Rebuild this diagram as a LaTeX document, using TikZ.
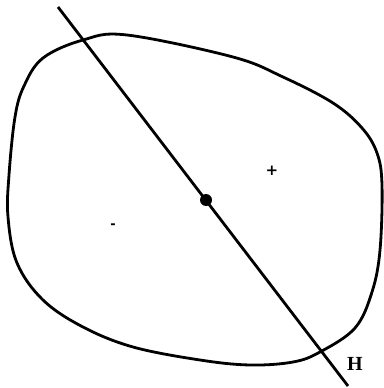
\documentclass[tikz,border=0pt]{standalone}
\usepackage{fontspec}
\newfontfamily\signfont{DejaVu Sans}
\newfontfamily\hfont{Liberation Serif}
\begin{document}
\begin{tikzpicture}[x=1pt,y=-1pt,
  stroke/.style={line width=2.8pt, black},
  lbl/.style={inner sep=0pt}]
\useasboundingbox (0,0) rectangle (383,388);
\draw[stroke] plot[smooth cycle, tension=0.6] coordinates {
  (43,58) (83,40) (127,35) (233,57) (283,77) (333,103) (362,128) (377,153)
  (382,185) (380,250) (372,292) (355,328) (320,352) (293,362) (250,365)
  (200,360) (133,347) (83,327) (43,300) (17,263) (8,217) (9,175)
  (15,117) (24,86)};
\coordinate (top) at (58,7);
\coordinate (bot) at (348,386);
\draw[stroke] (top) -- (bot);
\node[circle, fill=black, inner sep=0pt, minimum size=12pt] (dot) at (206,200) {};
\node[lbl, font=\signfont\bfseries\fontsize{15}{15}\selectfont] (plus) at (272,171) {+};
\node[lbl, font=\signfont\bfseries\fontsize{13}{13}\selectfont] (minus) at (113,226) {-};
\node[lbl, font=\hfont\bfseries\fontsize{20}{20}\selectfont] (H) at (355,364) {H};
\end{tikzpicture}
\end{document}
